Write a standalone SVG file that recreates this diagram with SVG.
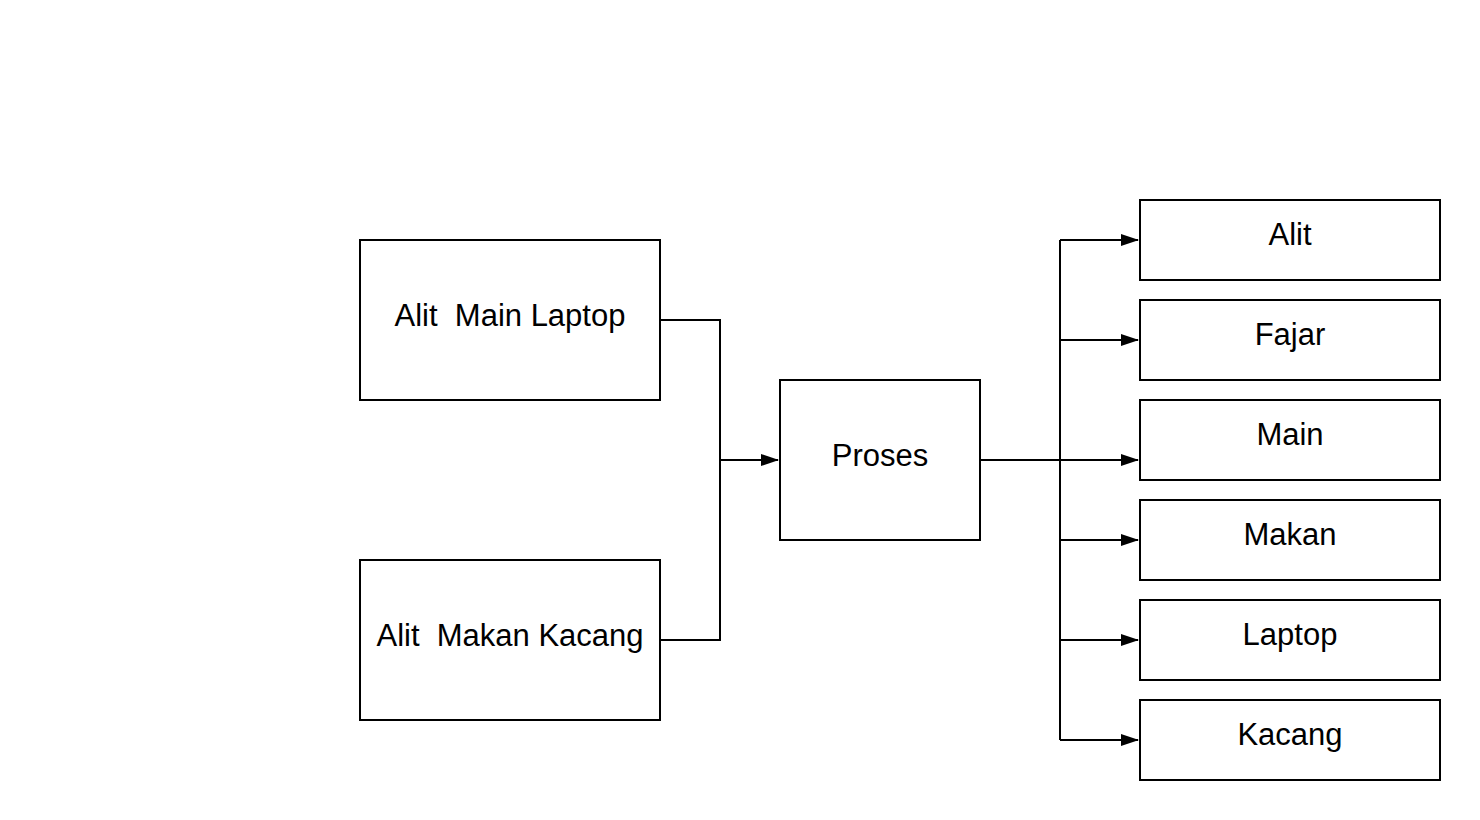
<svg xmlns="http://www.w3.org/2000/svg" width="1480" height="820" viewBox="0 0 1480 820">
<style>
.box{fill:#fff;stroke:#000;stroke-width:2}
.lbl{font-family:"Liberation Sans",Arial,sans-serif;font-size:31px;fill:#000;text-anchor:middle;white-space:pre}
.con{fill:none;stroke:#000;stroke-width:2}
</style>
<defs>
<marker id="arr" viewBox="0 0 18 12" refX="17" refY="6" markerWidth="18" markerHeight="12" markerUnits="userSpaceOnUse" orient="auto">
<path d="M0,0 L18,6 L0,12 Z" fill="#000"/>
</marker>
</defs>
<rect width="1480" height="820" fill="#fff"/>
<g id="connectors">
<path class="con" d="M660,320 H720 V460 H778" marker-end="url(#arr)"/>
<path class="con" d="M660,640 H720 V460"/>
<path class="con" d="M980,460 H1060"/>
<path class="con" d="M1060,240 V740"/>
<path class="con" d="M1060,240 H1138" marker-end="url(#arr)"/>
<path class="con" d="M1060,340 H1138" marker-end="url(#arr)"/>
<path class="con" d="M1060,460 H1138" marker-end="url(#arr)"/>
<path class="con" d="M1060,540 H1138" marker-end="url(#arr)"/>
<path class="con" d="M1060,640 H1138" marker-end="url(#arr)"/>
<path class="con" d="M1060,740 H1138" marker-end="url(#arr)"/>
</g>
<g id="n-alit-main-laptop"><rect class="box" x="360" y="240" width="300" height="160"/><text class="lbl" x="510" y="326" xml:space="preserve">Alit  Main Laptop</text></g>
<g id="n-alit-makan-kacang"><rect class="box" x="360" y="560" width="300" height="160"/><text class="lbl" x="510" y="646" xml:space="preserve">Alit  Makan Kacang</text></g>
<g id="n-proses"><rect class="box" x="780" y="380" width="200" height="160"/><text class="lbl" x="880" y="466">Proses</text></g>
<g id="n-alit"><rect class="box" x="1140" y="200" width="300" height="80"/><text class="lbl" x="1290" y="245">Alit</text></g>
<g id="n-fajar"><rect class="box" x="1140" y="300" width="300" height="80"/><text class="lbl" x="1290" y="345">Fajar</text></g>
<g id="n-main"><rect class="box" x="1140" y="400" width="300" height="80"/><text class="lbl" x="1290" y="445">Main</text></g>
<g id="n-makan"><rect class="box" x="1140" y="500" width="300" height="80"/><text class="lbl" x="1290" y="545">Makan</text></g>
<g id="n-laptop"><rect class="box" x="1140" y="600" width="300" height="80"/><text class="lbl" x="1290" y="645">Laptop</text></g>
<g id="n-kacang"><rect class="box" x="1140" y="700" width="300" height="80"/><text class="lbl" x="1290" y="745">Kacang</text></g>
</svg>
